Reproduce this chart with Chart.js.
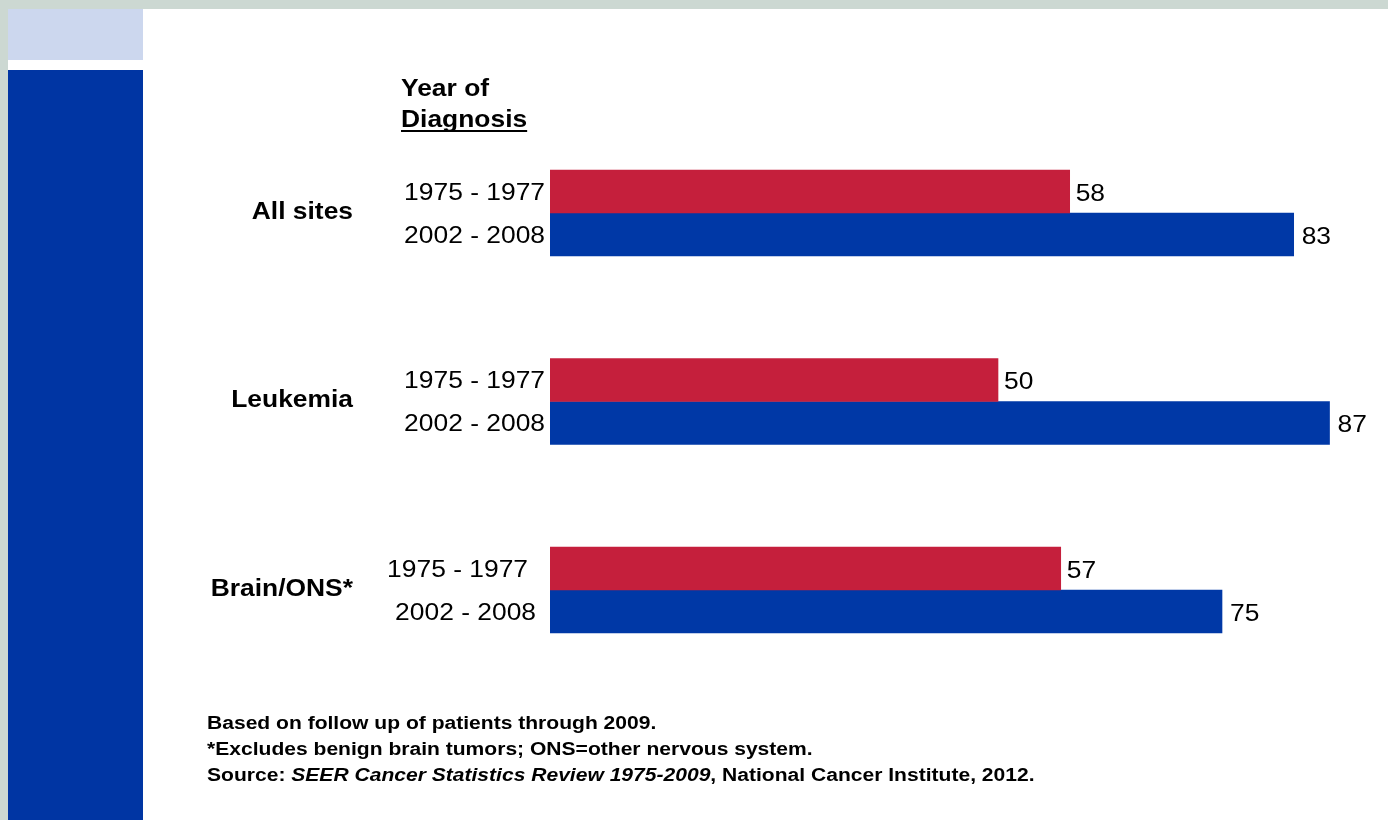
<!DOCTYPE html>
<html>
<head>
<meta charset="utf-8">
<script src="https://cdn.jsdelivr.net/npm/chart.js@4/dist/chart.umd.min.js"></script>
<style>
  html, body { margin: 0; padding: 0; width: 1388px; height: 820px; overflow: hidden; background: #ccd8d2; }
  #white { position: absolute; left: 143px; top: 9px; width: 1245px; height: 811px; background: #ffffff; }
  #lightbox { position: absolute; left: 8px; top: 9px; width: 135px; height: 51px; background: #ccd7ee; }
  #gap { position: absolute; left: 8px; top: 60px; width: 135px; height: 10px; background: #ffffff; }
  #sidebar { position: absolute; left: 8px; top: 70px; width: 135px; height: 750px; background: #0035a3; }
  #wrap { position: absolute; left: 0; top: 0; width: 1388px; height: 820px; }
</style>
</head>
<body>
<div id="white"></div>
<div id="lightbox"></div>
<div id="gap"></div>
<div id="sidebar"></div>
<div id="wrap"><canvas id="c" width="1388" height="820"></canvas></div>
<script>
// ---- data ----
const categories = ['All sites', 'Leukemia', 'Brain/ONS*'];
const periods = ['1975 - 1977', '2002 - 2008'];
const survival1975 = [58, 50, 57];
const survival2002 = [83, 87, 75];
const legendTitle = ['Year of', 'Diagnosis'];
const footnotes = [
  [{t: 'Based on follow up of patients through 2009.', i: false}],
  [{t: '*Excludes benign brain tumors; ONS=other nervous system.', i: false}],
  [{t: 'Source: ', i: false}, {t: 'SEER Cancer Statistics Review 1975-2009', i: true}, {t: ', National Cancer Institute, 2012.', i: false}]
];

const RED = '#c51f3c';
const BLUE = '#0038a6';
const FONT = '"Liberation Sans", Arial, sans-serif';
const STRETCH = 1.1;
const NOTE_STRETCH = 1.17;

function sText(ctx, txt, x, y, align, font, stretch) {
  ctx.save();
  ctx.font = font;
  ctx.fillStyle = '#000';
  ctx.textBaseline = 'middle';
  ctx.textAlign = align;
  ctx.translate(x, y);
  ctx.scale(stretch || STRETCH, 1);
  ctx.fillText(txt, 0, 0);
  ctx.restore();
}

const labelPlugin = {
  id: 'labels',
  afterDraw(chart) {
    const ctx = chart.ctx;
    const area = chart.chartArea;
    const yScale = chart.scales.y;
    const metas = [chart.getDatasetMeta(0), chart.getDatasetMeta(1)];
    const periodShift = [[0, 0], [0, 0], [-17, -9]];
    const valueGap = [6, 8];

    categories.forEach((cat, i) => {
      const cy = yScale.getPixelForValue(i);
      sText(ctx, cat, 353, cy - 1, 'right', 'bold 24px ' + FONT);
      metas.forEach((m, d) => {
        const bar = m.data[i];
        sText(ctx, periods[d], area.left - 5 + periodShift[i][d], bar.y + 1.5, 'right', '24px ' + FONT);
        const val = chart.data.datasets[d].data[i];
        sText(ctx, String(val), bar.x + valueGap[d], bar.y + 2.5, 'left', '24px ' + FONT);
      });
    });

    // legend-like title
    sText(ctx, legendTitle[0], 401, 89, 'left', 'bold 24px ' + FONT);
    sText(ctx, legendTitle[1], 401, 120, 'left', 'bold 24px ' + FONT);
    ctx.save();
    ctx.font = 'bold 24px ' + FONT;
    const w = ctx.measureText(legendTitle[1]).width * STRETCH;
    ctx.fillStyle = '#000';
    ctx.fillRect(401, 130, w, 2);
    ctx.restore();

    // footnotes
    footnotes.forEach((line, li) => {
      let x = 207;
      const y = 724 + li * 26;
      line.forEach(seg => {
        const f = (seg.i ? 'italic ' : '') + 'bold 18px ' + FONT;
        ctx.save();
        ctx.font = f;
        const sw = ctx.measureText(seg.t).width;
        ctx.restore();
        sText(ctx, seg.t, x, y, 'left', f, NOTE_STRETCH);
        x += sw * NOTE_STRETCH;
      });
    });
  }
};

new Chart(document.getElementById('c'), {
  type: 'bar',
  data: {
    labels: categories,
    datasets: [
      { label: periods[0], data: survival1975, backgroundColor: RED, borderWidth: 0 },
      { label: periods[1], data: survival2002, backgroundColor: BLUE, borderWidth: 0 }
    ]
  },
  options: {
    indexAxis: 'y',
    responsive: false,
    animation: false,
    events: [],
    layout: { padding: { left: 550, right: 31.6, top: 118.75, bottom: 135.75 } },
    datasets: { bar: { barThickness: 43 } },
    scales: {
      x: { display: false, min: 0, max: 90 },
      y: { display: false, offset: true }
    },
    plugins: { legend: { display: false }, tooltip: { enabled: false } }
  },
  plugins: [labelPlugin]
});
</script>
</body>
</html>
